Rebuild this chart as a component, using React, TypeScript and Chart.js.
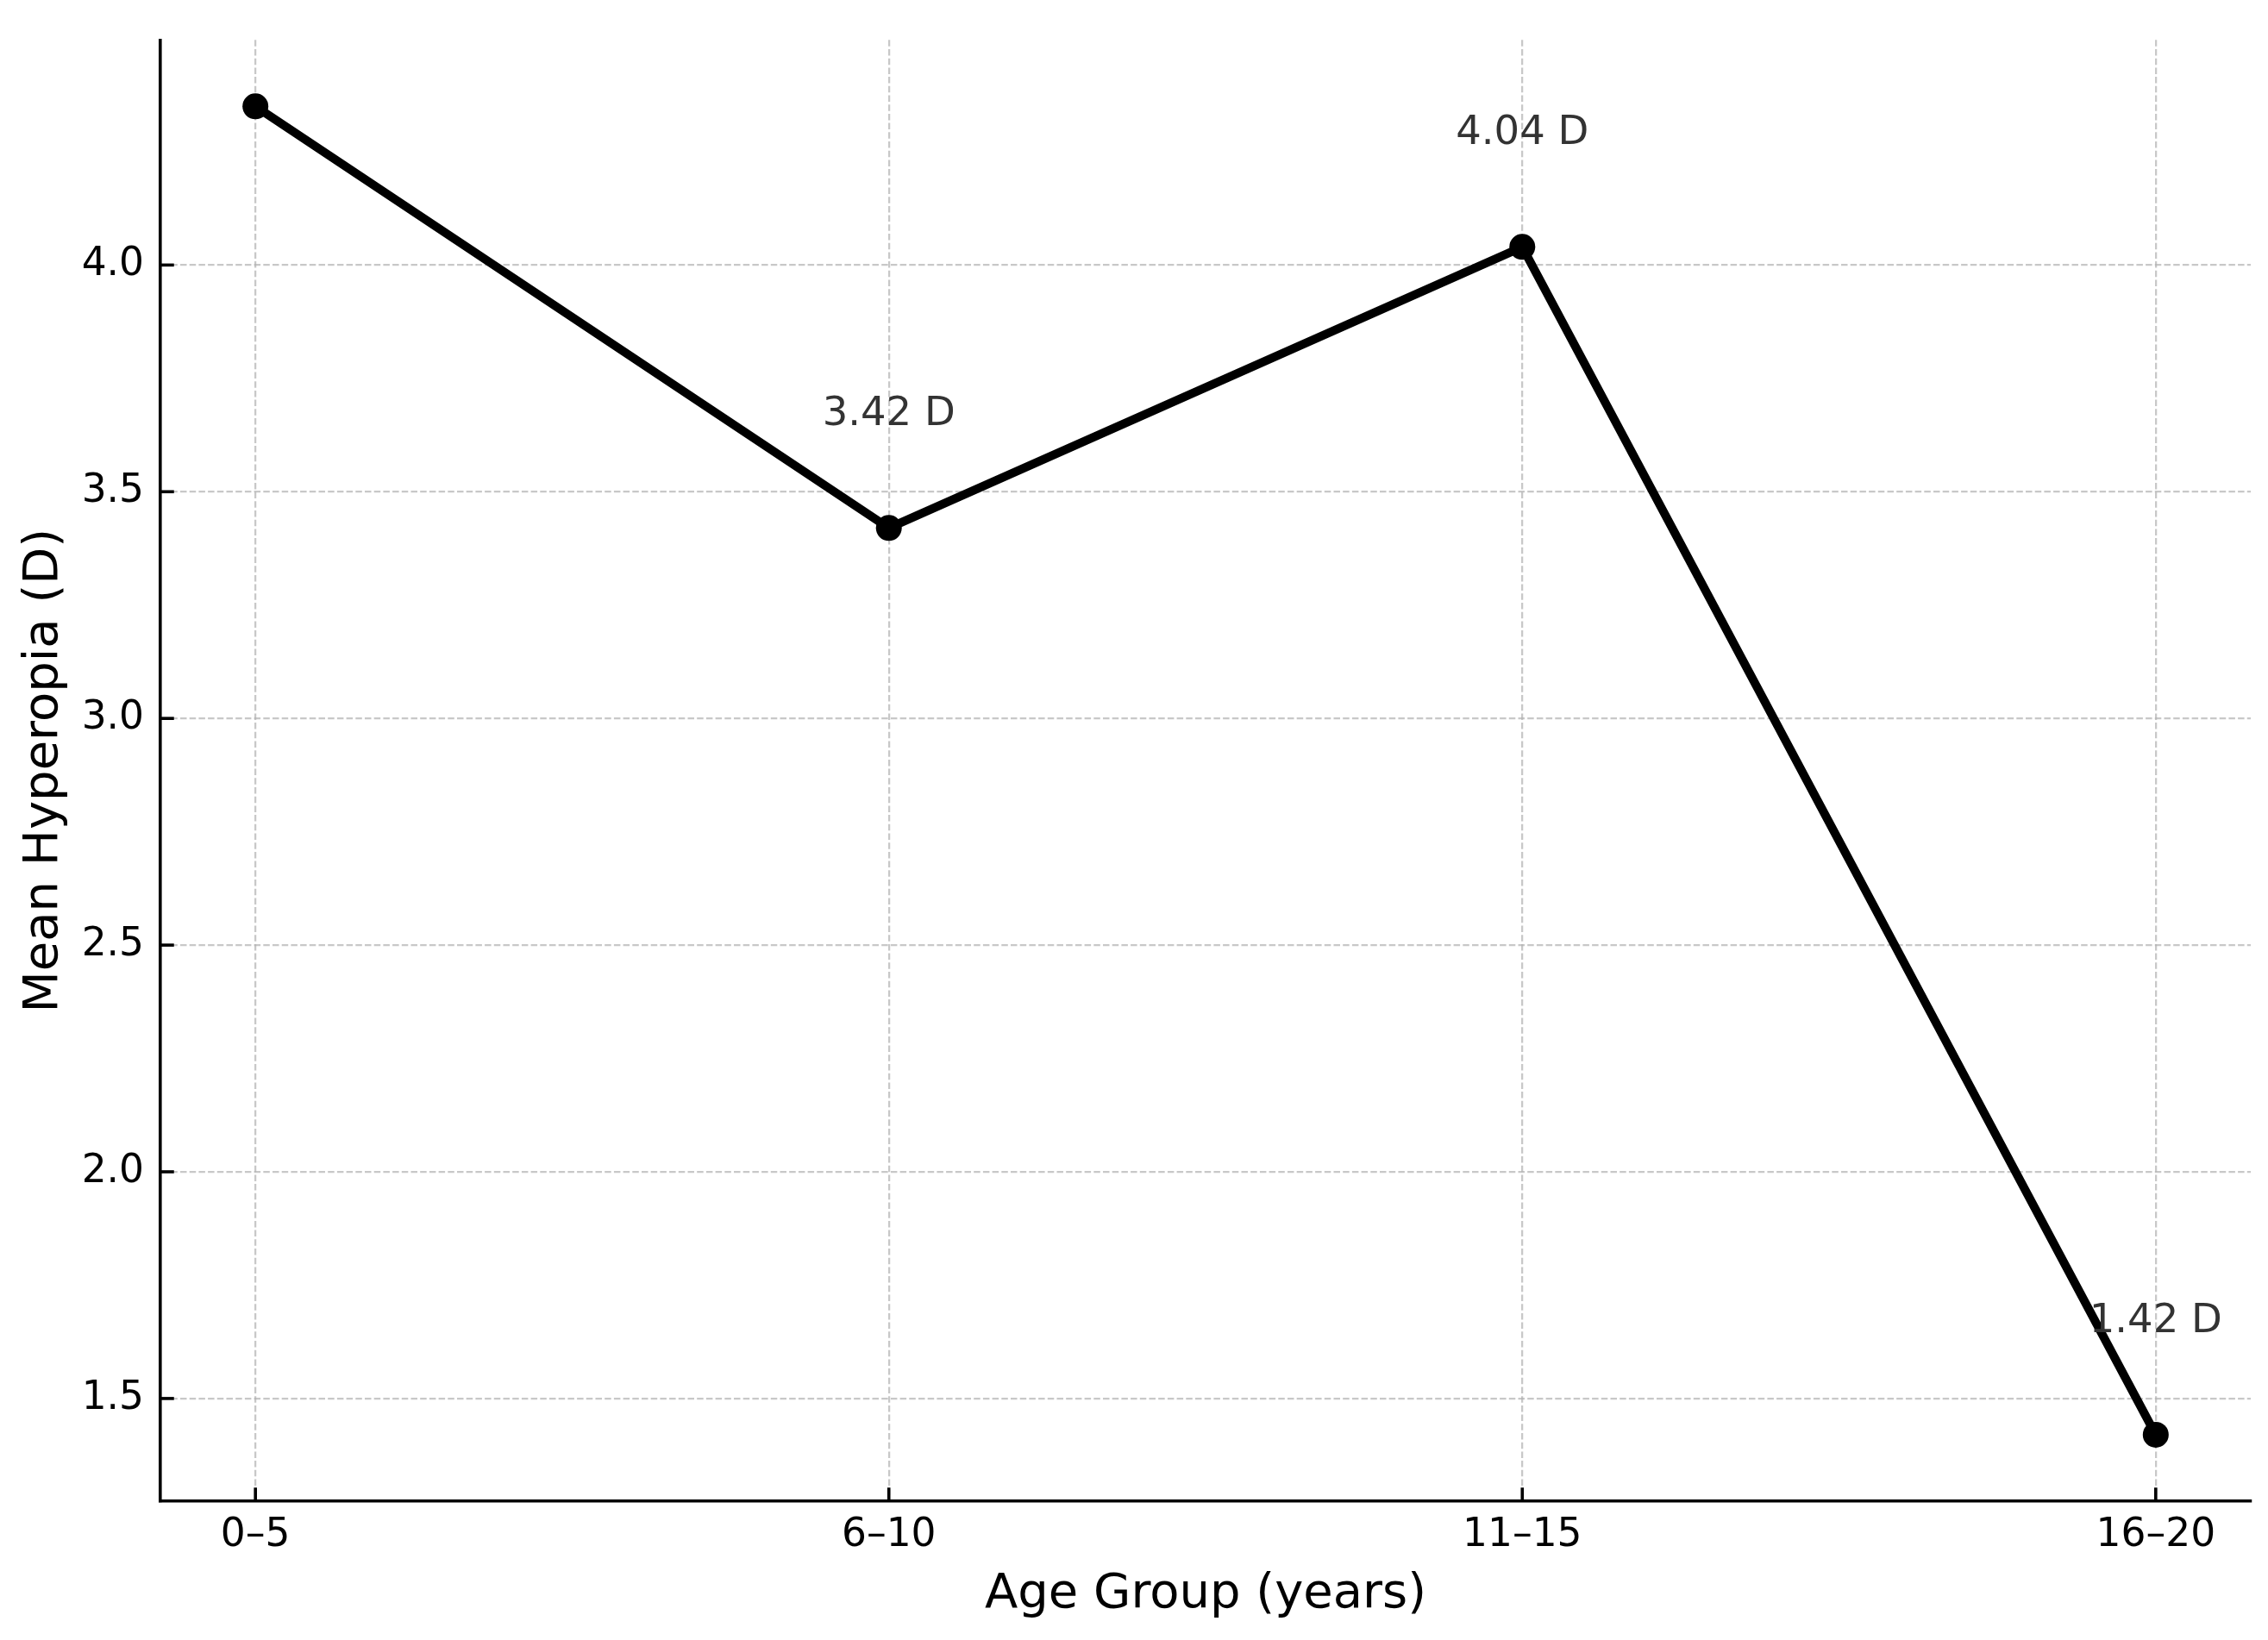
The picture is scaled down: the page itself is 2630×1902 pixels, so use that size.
import React, { useEffect, useRef } from "react";
import { Chart, registerables } from "chart.js";

Chart.register(...registerables);

const categories = ["0–5", "6–10", "11–15", "16–20"];
const meanHyperopia = [4.35, 3.42, 4.04, 1.42];
const labelTexts = ["4.35 D", "3.42 D", "4.04 D", "1.42 D"];
const yTickStep = 0.5;
const labelOffset = 0.25;

const FONT = "'DejaVu Sans', sans-serif";

export default function App() {
  const ref = useRef<HTMLCanvasElement | null>(null);

  useEffect(() => {
    document.body.style.margin = "0";
    const canvas = ref.current;
    if (!canvas) return;

    const lo = Math.min(...meanHyperopia);
    const hi = Math.max(...meanHyperopia);
    const m = (hi - lo) * 0.05;
    const xm = (categories.length - 1) * 0.05;

    const inwardTicks = {
      id: "inwardTicks",
      beforeDatasetsDraw(chart: any) {
        const ctx = chart.ctx;
        const area = chart.chartArea;
        const xs = chart.scales.x;
        const ys = chart.scales.y;
        ctx.save();
        ctx.strokeStyle = "#000";
        ctx.lineWidth = 3.6;
        xs.ticks.forEach((t: any) => {
          const px = xs.getPixelForValue(t.value);
          ctx.beginPath();
          ctx.moveTo(px, area.bottom);
          ctx.lineTo(px, area.bottom - 15.75);
          ctx.stroke();
        });
        ys.ticks.forEach((t: any) => {
          const py = ys.getPixelForValue(t.value);
          ctx.beginPath();
          ctx.moveTo(area.left, py);
          ctx.lineTo(area.left + 15.75, py);
          ctx.stroke();
        });
        ctx.restore();
      },
    };

    const pointLabels = {
      id: "pointLabels",
      afterDatasetsDraw(chart: any) {
        const ctx = chart.ctx;
        const area = chart.chartArea;
        const xs = chart.scales.x;
        const ys = chart.scales.y;
        ctx.save();
        ctx.font = `46.5px ${FONT}`;
        ctx.fillStyle = "#333333";
        ctx.textAlign = "center";
        ctx.textBaseline = "middle";
        meanHyperopia.forEach((v, i) => {
          const px = xs.getPixelForValue(i);
          const py = ys.getPixelForValue(v + labelOffset);
          if (py < area.top || py > area.bottom) return;
          ctx.fillText(labelTexts[i], px, py);
        });
        ctx.restore();
      },
    };

    const chart = new Chart(canvas, {
      type: "line",
      data: {
        datasets: [
          {
            data: meanHyperopia.map((v, i) => ({ x: i, y: v })),
            borderColor: "#000",
            borderWidth: 10,
            pointRadius: 15,
            pointBackgroundColor: "#000",
            pointBorderWidth: 0,
            tension: 0,
            fill: false,
          },
        ],
      },
      options: {
        animation: false,
        responsive: false,
        devicePixelRatio: 1,
        layout: { padding: { top: 40, right: 20, left: 0, bottom: 0 } },
        plugins: { legend: { display: false }, tooltip: { enabled: false } },
        scales: {
          x: {
            type: "linear",
            min: -xm,
            max: categories.length - 1 + xm,
            afterFit(scale: any) {
              scale.height = 161;
            },
            ticks: {
              stepSize: 1,
              includeBounds: false,
              autoSkip: false,
              maxRotation: 0,
              padding: 13,
              color: "#000",
              font: { family: FONT, size: 45.5 },
              callback: (v: any) =>
                Number.isInteger(v) && categories[v] !== undefined ? categories[v] : "",
            },
            grid: {
              drawTicks: false,
              color: "rgba(176,176,176,0.7)",
              lineWidth: 2.25,
            },
            border: { display: true, color: "#000", width: 3.6, dash: [7.5, 3.2] as any },
            title: {
              display: true,
              text: "Age Group (years)",
              color: "#000",
              font: { family: FONT, size: 56 },
              padding: { top: 0, bottom: 19 },
            },
          },
          y: {
            type: "linear",
            min: lo - m,
            max: hi + m,
            afterFit(scale: any) {
              scale.width = 186;
            },
            ticks: {
              stepSize: yTickStep,
              includeBounds: false,
              padding: 19,
              color: "#000",
              font: { family: FONT, size: 45.5 },
              callback: (v: any) => Number(v).toFixed(1),
            },
            grid: {
              drawTicks: false,
              color: "rgba(176,176,176,0.7)",
              lineWidth: 2.25,
            },
            border: { display: true, color: "#000", width: 3.6, dash: [7.5, 3.2] as any },
            title: {
              display: true,
              text: "Mean Hyperopia (D)",
              color: "#000",
              font: { family: FONT, size: 56 },
              padding: { top: 18, bottom: 0 },
            },
          },
        },
      },
      plugins: [inwardTicks, pointLabels],
    });

    return () => chart.destroy();
  }, []);

  return <canvas ref={ref} width={2630} height={1902} style={{ display: "block" }} />;
}
